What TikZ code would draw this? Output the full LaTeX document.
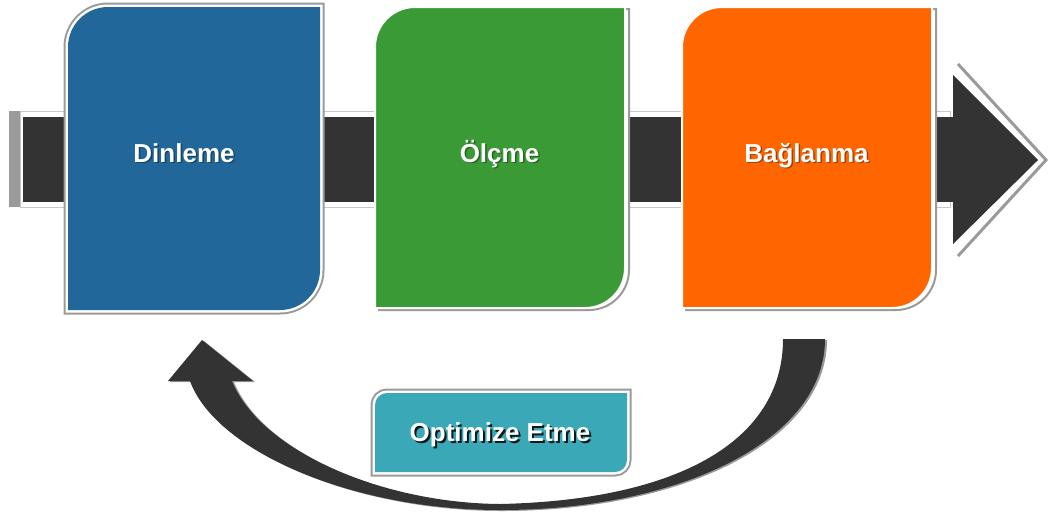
\documentclass[tikz,border=0pt]{standalone}
\usepackage{fontspec}
\setmainfont{Liberation Sans}
\definecolor{cblue}{HTML}{21679A}
\definecolor{cgreen}{HTML}{3A9A35}
\definecolor{corange}{HTML}{FF6600}
\definecolor{cteal}{HTML}{3AA8B6}
\definecolor{cdark}{HTML}{333333}
\definecolor{cgray}{HTML}{9A9A9A}
\definecolor{clight}{HTML}{C8C8C8}
\tikzset{
  cut/.style n args={5}{insert path={(#1,#4) -- (#1,#2+#5) .. controls (#1,#2+0.448*#5) and (#1+0.448*#5,#2) .. (#1+#5,#2) -- (#3,#2) -- (#3,#4-#5) .. controls (#3,#4-0.448*#5) and (#3-0.448*#5,#4) .. (#3-#5,#4) -- cycle}},
  lbl/.style={text=white, font=\bfseries\fontsize{26}{30}\selectfont, anchor=base, inner sep=0pt},
  lblsh/.style={lbl, text=black, opacity=0.35},
  lbldark/.style={lbl, text=black, opacity=0.85},
  curvedarrow/.style={insert path={(825,339) .. controls (825,440) and (680,510) .. (500,510) .. controls (350,510) and (215,450) .. (190,381) -- (168,381) -- (202,340) -- (253,381) -- (232,381) .. controls (260,450) and (380,503) .. (500,504) .. controls (680,500) and (783,440) .. (783,339) -- cycle}}
}
\begin{document}
\begin{tikzpicture}[x=1pt,y=-1pt]
\useasboundingbox (0,0) rectangle (1051,515);
% band
\draw[clight, line width=1] (20,111) rectangle (950,207);
\fill[cgray] (9,111) rectangle (20,207);
\fill[cdark] (23,117) rectangle (956,202);
\draw[cgray, line width=3, line join=miter] (958,64) -- (1046,160) -- (958,256);
\fill[cdark] (953,75) -- (1038,160) -- (953,244) -- cycle;
% box 1
\path[draw=cgray, line width=9, cut={68}{7}{320}{310}{40}];
\path[draw=white, line width=5, cut={68}{7}{320}{310}{40}];
\path[fill=cblue, cut={68}{7}{320}{310}{40}];
% box 2
\path[draw=cgray, line width=2, fill=white, shift={(4,2)}, cut={375}{7}{625}{308}{40}];
\path[fill=cgreen, draw=white, line width=2, cut={375}{7}{625}{308}{40}];
% box 3
\path[draw=cgray, line width=2, fill=white, shift={(4,2)}, cut={682}{7}{932}{308}{40}];
\path[fill=corange, draw=white, line width=2, cut={682}{7}{932}{308}{40}];
% curved arrow
\path[fill=cgray, shift={(2,1)}, curvedarrow];
\path[fill=cdark, curvedarrow];
% teal box
\path[draw=cgray, line width=9, cut={375}{393}{627}{472}{12}];
\path[draw=white, line width=5, cut={375}{393}{627}{472}{12}];
\path[fill=cteal, cut={375}{393}{627}{472}{12}];
% labels
\node[lblsh] at (185.5,163.5) {Dinleme};
\node[lbl] (dinleme) at (184,162) {Dinleme};
\node[lblsh] at (501,163.5) {Ölçme};
\node[lbl] (olcme) at (499.5,162) {Ölçme};
\node[lblsh] at (808,163.5) {Bağlanma};
\node[lbl] (baglanma) at (806.5,162) {Bağlanma};
\node[lbldark] at (502,443.5) {Optimize Etme};
\node[lbl] (optimize) at (500,441.5) {Optimize Etme};
\end{tikzpicture}
\end{document}
